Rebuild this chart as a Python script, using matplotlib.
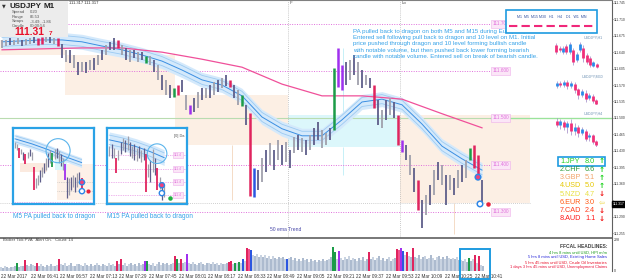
import matplotlib
matplotlib.use("Agg")
import matplotlib.pyplot as plt
from matplotlib.patches import Rectangle

plt.rcParams["font.family"] = ["Liberation Sans", "DejaVu Sans"]
NARROW = ["Liberation Sans Narrow", "Liberation Sans", "DejaVu Sans"]

W, H = 625, 280

# ---- USDJPY M1 bars (one entry per 2 minutes) ----------------------------
bar_hi = [
    111.666, 111.666, 111.670, 111.666, 111.670, 111.666, 111.668, 111.670, 111.672, 111.670,
    111.672, 111.674, 111.672, 111.670, 111.670, 111.657, 111.645, 111.645, 111.634, 111.619,
    111.619, 111.619, 111.623, 111.628, 111.634, 111.645, 111.655, 111.662, 111.670, 111.666,
    111.655, 111.649, 111.645, 111.645, 111.640, 111.640, 111.632, 111.632, 111.623, 111.613,
    111.591, 111.581, 111.570, 111.564, 111.570, 111.581, 111.549, 111.528, 111.543, 111.555,
    111.564, 111.564, 111.570, 111.577, 111.581, 111.585, 111.591, 111.581, 111.570, 111.560,
    111.549, 111.528, 111.511, 111.394, 111.389, 111.415, 111.432, 111.447, 111.432, 111.453,
    111.443, 111.449, 111.432, 111.460, 111.464, 111.457, 111.453, 111.464, 111.479, 111.491,
    111.474, 111.468, 111.479, 111.606, 111.649, 111.613, 111.619, 111.623, 111.634, 111.619,
    111.602, 111.591, 111.585, 111.570, 111.538, 111.517, 111.538, 111.543, 111.534, 111.506,
    111.453, 111.443, 111.421, 111.394, 111.368, 111.326, 111.336, 111.357, 111.389, 111.406,
    111.400, 111.379, 111.379, 111.372, 111.389, 111.400, 111.411, 111.436, 111.443, 111.421,
    111.368]
bar_lo = [
    111.649, 111.653, 111.655, 111.655, 111.657, 111.653, 111.655, 111.657, 111.660, 111.655,
    111.657, 111.662, 111.660, 111.657, 111.653, 111.628, 111.619, 111.617, 111.606, 111.591,
    111.598, 111.596, 111.602, 111.602, 111.613, 111.623, 111.634, 111.645, 111.645, 111.649,
    111.634, 111.623, 111.619, 111.628, 111.619, 111.623, 111.617, 111.613, 111.598, 111.581,
    111.560, 111.549, 111.543, 111.545, 111.549, 111.555, 111.517, 111.509, 111.513, 111.521,
    111.538, 111.543, 111.543, 111.549, 111.555, 111.564, 111.568, 111.566, 111.543, 111.528,
    111.526, 111.485, 111.334, 111.332, 111.347, 111.364, 111.385, 111.400, 111.389, 111.411,
    111.400, 111.406, 111.394, 111.426, 111.432, 111.428, 111.421, 111.432, 111.443, 111.453,
    111.436, 111.443, 111.453, 111.474, 111.566, 111.560, 111.570, 111.581, 111.591, 111.570,
    111.564, 111.570, 111.564, 111.521, 111.485, 111.479, 111.496, 111.506, 111.500, 111.443,
    111.428, 111.411, 111.379, 111.343, 111.304, 111.266, 111.294, 111.315, 111.336, 111.368,
    111.357, 111.315, 111.347, 111.336, 111.351, 111.364, 111.372, 111.411, 111.394, 111.374,
    111.317]
# g/d grey bars, r bear signal, G bull signal, p purple, b blue
bar_col = ("ggdggdggdr" "rgdgrdgdgd" "gdgdgdgddr" "gdgdgdGgdg" "dgdGrdgpdg"
           "dgdgdgdrdg" "Gdrbdgdgdg" "dgdgdgdgdd" "ggdGppdgdg" "dgdrdgdgdr"
           "pdgdrdgdgd" "gdgdgdgGrr" "d")

# dragon (ema channel) centre, every 5 bars
dragon_i = list(range(0, 121, 5))
dragon = [111.662, 111.664, 111.666, 111.666, 111.662, 111.653, 111.645, 111.634, 111.621,
          111.602, 111.581, 111.570, 111.547, 111.502, 111.477, 111.462, 111.462, 111.496,
          111.534, 111.540, 111.528, 111.487, 111.440, 111.413, 111.389]
# 50 ema trend, every 10 bars
ema_i = list(range(0, 121, 10))
ema50 = [111.645, 111.647, 111.649, 111.649, 111.640, 111.625, 111.608, 111.572, 111.547,
         111.547, 111.540, 111.509, 111.479]

# session boxes: first bar, last bar, top, bottom, kind
zones = [(-0.5, 15.75, 111.666, 111.634, "peach"),
         (15.75, 43.25, 111.634, 111.549, "peach"),
         (43.25, 71.5, 111.549, 111.443, "peach"),
         (71.5, 99.5, 111.506, 111.438, "cyan"),
         (99.5, 132.0, 111.506, 111.319, "peach")]
session_lines = [71.5, 99.5]
session_tags = ["F", "Lo"]
pink_levels = [111.700, 111.600, 111.400, 111.300]
level_tags = ["111.700", "111.600", "111.500", "111.400", "111.300"]
round_level = 111.500
entry_i = [119, 119.5]
entry_p = [111.374, 111.317]
last_price = 111.317

# ---- volume (one bar per minute) -----------------------------------------
vol = [30, 25, 35, 28, 22, 30, 26, 35, 58, 30, 40, 35, 80, 45, 38, 50, 42, 35, 60, 40,
       48, 35, 30, 45, 38, 52, 40, 33, 45, 88, 50, 42, 55, 38, 45, 60, 40, 35, 48, 52,
       44, 38, 55, 46, 40, 50, 36, 42, 58, 45, 38, 52, 47, 40, 55, 43, 50, 38, 75, 50,
       85, 45, 55, 40, 48, 60, 42, 50, 38, 55, 47, 52, 75, 72, 50, 44, 58, 40, 52, 62,
       46, 55, 48, 60, 42, 50, 56, 110, 85, 60, 88, 55, 62, 125, 55, 48, 62, 50, 45, 58,
       66, 52, 44, 60, 55, 48, 63, 50, 57, 45, 60, 53, 48, 58, 65, 75, 50, 60, 55, 62,
       58, 90, 70, 165, 160, 155, 120, 110, 125, 105, 115, 100, 118, 95, 108, 90, 112, 98,
       85, 105, 92, 100, 88, 90, 95, 102, 80, 95, 75, 88, 70, 92, 78, 85, 68, 90, 74, 82,
       66, 80, 72, 86, 70, 78, 85, 100, 175, 140, 90, 145, 95, 80, 100, 85, 110, 78, 92, 88,
       70, 96, 82, 105, 75, 90, 140, 85, 100, 78, 92, 110, 80, 95, 70, 88, 102, 76, 90, 98,
       160, 150, 165, 145, 120, 140, 110, 100, 165, 105, 95, 118, 88, 100, 110, 85, 98, 120,
       92, 80, 105, 112, 90, 100, 86, 108, 95, 88, 96, 84, 100, 78, 80, 70, 90, 65, 95, 75,
       85, 115, 60, 110, 45, 35]
vol_marks = {8: "G", 12: "r", 18: "r", 29: "r", 58: "r", 60: "r", 72: "p", 73: "G",
             87: "r", 88: "G", 90: "r", 93: "p", 114: "r", 115: "r", 117: "G", 119: "G",
             121: "b", 123: "r", 124: "k", 125: "b", 143: "b", 166: "G", 167: "G", 169: "p",
             184: "r", 198: "r", 199: "k", 200: "p", 201: "b", 203: "r", 206: "r",
             234: "G", 237: "r", 239: "r"}
time_labels = ["22 Mar 2017", "22 Mar 06:41", "22 Mar 06:57", "22 Mar 07:13", "22 Mar 07:29",
               "22 Mar 07:45", "22 Mar 08:01", "22 Mar 08:17", "22 Mar 08:33", "22 Mar 08:49",
               "22 Mar 09:05", "22 Mar 09:21", "22 Mar 09:37", "22 Mar 09:53", "22 Mar 10:09",
               "22 Mar 10:25", "22 Mar 10:41"]

# ---- inset screenshots (M5 and M15), own price units ---------------------
m5_hi = [63, 61, 57, 56, 53, 51, 53, 56, 53, 37, 26, 29, 34, 37, 42, 47, 52, 55, 52, 56,
         57, 54, 51, 47, 41, 27, 26, 27, 29, 27, 31, 32, 26]
m5_lo = [57, 55, 47, 51, 45, 41, 47, 49, 45, 14, 16, 19, 22, 27, 31, 34, 37, 42, 37, 46,
         47, 42, 39, 34, 24, 6, 9, 14, 17, 12, 17, 21, 12]
m5_col = "ggrgdrgdgr" "ggdgdgdgGg" "dgdgpdgdgd" "gdr"
m5_dragon_k = [0, 8, 16, 24, 32]
m5_dragon = [66, 61, 55, 48, 42]

m15_hi = [59, 61, 57, 47, 55, 63, 67, 65, 69, 63, 59, 61, 57, 59, 55, 57, 51, 41, 45, 56,
          47, 36, 27, 21, 19]
m15_lo = [49, 47, 47, 31, 45, 51, 55, 53, 55, 49, 47, 45, 44, 47, 43, 45, 12, 27, 22, 32,
          29, 14, 15, 4, 7]
m15_col = "gdgrgdgdgd" "gdgdgdrgdg" "drgdg"
m15_dragon_k = [0, 6, 12, 18, 24]
m15_dragon = [65, 62, 58, 53, 47]
m15_levels = [50, 35, 22, 9]

# ---- small higher-timeframe charts (open, close, high, low) --------------
h1_o = [25, 22, 18, 24, 18, 20, 10, 20, 22, 15, 12, 4, 6]
h1_c = [18, 20, 22, 18, 26, 8, 16, 26, 12, 8, 5, 8, 3]
h1_h = [27, 24, 24, 26, 28, 22, 18, 28, 25, 17, 14, 9, 7]
h1_l = [16, 18, 16, 16, 16, 5, 8, 18, 8, 6, 3, 3, 2]
m30_o = [18, 21, 19, 22, 18, 20, 15, 10, 12, 7, 9, 5]
m30_c = [21, 19, 22, 18, 21, 14, 10, 13, 6, 10, 4, 1]
m30_h = [23, 23, 24, 24, 23, 22, 16, 15, 14, 12, 11, 6]
m30_l = [16, 17, 17, 15, 16, 12, 6, 8, 3, 5, 2, 0]
h4_o = [26, 22, 25, 20, 24, 16, 20, 14, 16, 10, 12, 6]
h4_c = [22, 26, 20, 24, 16, 20, 14, 18, 8, 12, 5, 2]
h4_h = [29, 28, 27, 26, 28, 24, 22, 20, 18, 14, 13, 7]
h4_l = [20, 18, 17, 14, 12, 12, 10, 12, 6, 6, 3, 0]

# ---- currency strength meter ----------------------------------------------
ccy = ["1.JPY", "2.CHF", "3.GBP", "4.USD", "5.NZD", "6.EUR", "7.CAD", "8.AUD"]
ccy_val = [8.0, 6.6, 5.1, 5.0, 4.7, 3.0, 2.4, 1.1]
ccy_dir = ["up", "up", "up", "up", "down", "flat", "down", "down"]
ccy_colors = ["#22d022", "#2f9a3a", "#f2a46a", "#e6c800", "#e8e040", "#ff5a14",
              "#ff3a1a", "#ff1818"]

headlines = ["4 hrs 8 mins until USD, HPI m/m",
             "5 hrs 8 mins until USD, Existing Home Sales",
             "5 hrs 45 mins until USD, Crude Oil Inventories",
             "1 days 3 hrs 45 mins until USD, Unemployment Claims"]
headline_colors = ["#1a9a1a", "#2222d8", "#e8102a", "#e8103a"]

note = ("PA pulled back to dragon on both M5 and M15 during Europe open.\n"
        "Entered sell following pull back to dragon and 10 level on M1. Initial\n"
        "price pushed through dragon and 10 level forming bullish candle\n"
        "with notable volume, but then pushed back lower forming bearish\n"
        "candle with notable volume. Entered sell on break of bearish candle.")

CANDLE = {"g": "#a0a0ac", "d": "#5e5e8a", "r": "#e0245e", "G": "#1c9c48",
          "p": "#a030ee", "b": "#2c56e0", "k": "#f2508e"}
ZONE = {"peach": "#fcefe4", "cyan": "#dcf7fb"}
BLUE_TXT = "#35a2e8"
PINK = "#e070dc"


fig = plt.figure(figsize=(W / 100, H / 100), dpi=100)
fig.patch.set_facecolor("white")


def fx(x):
    return x / W


def fy(y):
    return 1 - y / H


def ftext(x, y, s, **kw):
    kw.setdefault("va", "center")
    fig.text(fx(x), fy(y), s, **kw)


def fbox(x0, y0, x1, y1, **kw):
    fig.add_artist(Rectangle((fx(x0), fy(y1)), (x1 - x0) / W, (y1 - y0) / H,
                             transform=fig.transFigure, **kw))


def draw_bars(a, hi, lo, codes, lw_grey=1.3, lw_sig=1.8, z=4):
    for code, c in CANDLE.items():
        idx = [i for i, cc in enumerate(codes) if cc == code]
        if idx:
            a.vlines(idx, [lo[i] for i in idx], [hi[i] for i in idx], colors=c,
                     lw=lw_grey if code in "gd" else lw_sig, zorder=z)


def draw_dragon(a, xs, mid, half, z=2):
    a.fill_between(xs, [m - half for m in mid], [m + half for m in mid],
                   color="#d4e9fb", lw=0, zorder=z)
    a.plot(xs, [m + half * 0.6 for m in mid], color="#9ccaf2", lw=0.6, zorder=z)
    a.plot(xs, [m - half * 0.6 for m in mid], color="#9ccaf2", lw=0.6, zorder=z)
    a.plot(xs, mid, color="#3a8ee2", lw=0.7, zorder=z)


# ---------------- main price panel ----------------
ax = fig.add_axes([0, fy(238), 612 / W, 238 / H])
ax.set_xlim(-0.5, 152.5)
ax.set_ylim(111.2445, 111.751)
ax.set_facecolor("white")
for s in ("left", "bottom"):
    ax.spines[s].set_visible(False)
ax.spines["top"].set_color("#808080")
ax.spines["right"].set_color("#606060")
ax.set_xticks([])
ax.yaxis.tick_right()
ticks = [111.745 - 0.035 * k for k in range(15)]
ax.set_yticks(ticks)
# the 111.325 label sits under the last-price box
ax.set_yticklabels(["" if abs(t - 111.325) < 1e-6 else f"{t:.3f}" for t in ticks],
                   fontsize=2.4, color="#333333")
ax.tick_params(axis="y", length=1, width=0.5, pad=0.5, colors="#555555", labelcolor="#333333")

for i0, i1, top, bot, kind in zones:
    ax.add_patch(Rectangle((i0, bot), i1 - i0, top - bot, fc=ZONE[kind], ec="none", zorder=0))
ax.vlines([57.5, 113], [111.326, 111.253], [111.443, 111.319], colors="#f3d6bd", lw=0.6, zorder=0)
ax.vlines([85.25, 85.25], [111.379, 111.506], [111.438, 111.649], colors="#bdeef6", lw=0.6, zorder=0)
for xs in session_lines:
    ax.axvline(xs, color="#b8b8b8", ls=(0, (1, 1.5)), lw=0.6, zorder=1)
ax.hlines(pink_levels, -0.5, 122, colors=PINK, ls=(0, (1, 1.5)), lw=0.7, zorder=1)
ax.hlines(111.319, -0.5, 132, colors="#c0c0c0", ls=(0, (1, 1.5)), lw=0.6, zorder=1)
ax.axhline(round_level, color="#b9dcb0", lw=0.8, zorder=1)
ax.hlines(round_level, 122, 152.5, colors="#9be39b", lw=0.9, zorder=1)

draw_dragon(ax, dragon_i, dragon, 0.016)
ax.plot(ema_i, ema50, color="#f0509a", lw=0.9, zorder=3)
draw_bars(ax, bar_hi, bar_lo, bar_col)

ax.scatter(entry_i, entry_p, s=16, facecolors=["#f0407a", "white"], edgecolors="#2f86e6",
           lw=1.1, zorder=6)
ax.scatter([121.5], [last_price], s=5, color="#e8203a", zorder=6)

for lv, tag in zip(sorted(pink_levels + [round_level], reverse=True), level_tags):
    ax.text(122.6, lv, tag, fontsize=3.4, color=PINK, va="center", ha="left", zorder=7,
            bbox=dict(boxstyle="square,pad=0.25", fc="#fbe6f7", ec="#eeb0ea", lw=0.4))
for xs, tag in zip(session_lines, session_tags):
    ax.text(xs + 0.3, 111.745, tag, fontsize=3.2, color="#555555", va="center")

ax.text(87.8, 111.690, note, fontsize=4.45, color=BLUE_TXT, va="top", ha="left",
        family=NARROW, linespacing=1.35, zorder=8)
ax.text(67, 111.263, "50 ema Trend", fontsize=3.6, color="#4848a8", va="center")

# last price box on the axis
ftext(612.6, 204, "111.317", fontsize=2.4, color="white", ha="left",
      bbox=dict(boxstyle="square,pad=0.25", fc="black", ec="black"))

# ---------------- volume panel ----------------
vax = fig.add_axes([0, fy(271), 612 / W, 33 / H])
vax.set_xlim(-0.5, 305.5)
vax.set_ylim(0, 240)
for s in ("left", "bottom"):
    vax.spines[s].set_visible(False)
vax.spines["top"].set_color("#606060")
vax.spines["top"].set_linewidth(1.2)
vax.spines["right"].set_color("#606060")
vax.set_xticks([])
vax.yaxis.tick_right()
vax.set_yticks([0, 228])
vax.set_yticklabels(["0", "228"], fontsize=2.6, color="#333333")
vax.tick_params(axis="y", length=0, pad=1.5)
vcols = []
for j in range(len(vol)):
    code = vol_marks.get(j)
    vcols.append(CANDLE[code] if code else ("#adbbcf" if j % 2 else "#c9d3e1"))
vax.bar(range(len(vol)), vol, width=0.75, color=vcols, lw=0)
vax.text(1, 222, "Broker Tick PVA   Alert On.   Count: 14", fontsize=3.0,
         color="#444444", va="center")

for k, lab in enumerate(time_labels):
    ftext(1 + 29.6 * k, 276, lab, fontsize=3.3, color="#333333", ha="left")

ftext(607, 247, "FFCAL HEADLINES:", fontsize=3.5, color="#404040", ha="right", weight="bold")
for k, (hl, hc) in enumerate(zip(headlines, headline_colors)):
    ftext(607, 252.3 + 5 * k, hl, fontsize=2.9, color=hc, ha="right")
fbox(460, 249, 490, 279, fc="none", ec="#1e9be0", lw=1.4)

# ---------------- info panel (top left) ----------------
fbox(0, 1, 68, 37, fc="#ececec", ec="none")
ftext(2, 6, "▼", fontsize=3.5, color="#333333", family=["DejaVu Sans"])
ftext(9, 6, "USDJPY", fontsize=5.8, color="#202020", weight="bold")
ftext(44, 6, "M1", fontsize=5.8, color="#202020", weight="bold")
for k, (lab, val) in enumerate([("Spread", "0.20"), ("Range", "86.53"),
                                ("Swaps", "-3.49, -1.86"), ("Candle", "00:00:54")]):
    ftext(12, 12 + 4.7 * k, lab, fontsize=3.0, color="#555555")
    ftext(30, 12 + 4.7 * k, val, fontsize=3.0, color="#555555")
ftext(14, 32, "111.31", fontsize=7.4, color="#e8102a", weight="bold")
ftext(49, 33.5, "7", fontsize=4.6, color="#e8102a", weight="bold")
ftext(69, 3.5, "111.317 111.317", fontsize=3.0, color="#333333")

# ---------------- timeframe selector ----------------
fbox(506, 10, 597, 33, fc="white", ec="#1e9be0", lw=1.2, zorder=5)
ftext(551.5, 17.5, "M1  M5  M15 M30   H1    H4    D1   W1  MN", fontsize=2.6,
      color="#3050a0", ha="center", zorder=6)
fig.add_artist(plt.Line2D([fx(509), fx(595)], [fy(25.5), fy(25.5)], transform=fig.transFigure,
                          color="#f0287a", lw=1.5, ls=(0, (4, 2)), zorder=6))


# ---------------- insets ----------------
def inset(x0, y0, w, h, nbars):
    a = fig.add_axes([fx(x0), fy(y0 + h), w / W, h / H])
    a.set_xlim(-1, nbars)
    a.set_ylim(0, 77)
    a.set_xticks([])
    a.set_yticks([])
    a.set_facecolor("white")
    for s in a.spines.values():
        s.set_color("#2aa2e6")
        s.set_linewidth(1.6)
    return a


a1 = inset(13, 128, 81, 76, 38)
a1.add_patch(Rectangle((2.4, 32), 13, 10, fc="#fbeadf", ec="none", zorder=0))
a1.add_patch(Rectangle((20, 4), 18, 37, fc="#fdf1e8", ec="none", zorder=0))
a1.add_patch(Rectangle((19, 34), 6, 12, fc="#d8f6fb", ec="none", zorder=0))
a1.hlines([22, 13], 20, 38, colors="#b8b8b8", ls=(0, (1, 1.5)), lw=0.5)
a1.axhline(2, color=PINK, ls=(0, (1, 1.5)), lw=0.5)
draw_dragon(a1, m5_dragon_k, m5_dragon, 5)
draw_bars(a1, m5_hi, m5_lo, m5_col, lw_grey=0.9, lw_sig=1.3)
a1.scatter([20.7], [54], s=300, facecolors="none", edgecolors="#5ab4ec", lw=0.8, zorder=6)
a1.scatter([32.2, 32.2], [22, 13], s=14, facecolors=["#f0407a", "white"],
           edgecolors="#2f86e6", lw=1.0, zorder=6)
a1.scatter([35], [13], s=4, color="#e8203a", zorder=6)

a2 = inset(107, 128, 80, 76, 34)
a2.hlines(m15_levels, -1, 34, colors=PINK, ls=(0, (1, 1.5)), lw=0.5)
a2.axhline(2, color="#d0c8b8", lw=0.6)
draw_dragon(a2, m15_dragon_k, m15_dragon, 8)
draw_bars(a2, m15_hi, m15_lo, m15_col, lw_grey=0.9, lw_sig=1.3)
for lv in m15_levels:
    a2.text(28.2, lv, "111.4", fontsize=2.4, color=PINK, va="center",
            bbox=dict(boxstyle="square,pad=0.3", fc="#fbe6f7", ec="#eeb0ea", lw=0.4))
a2.text(28.5, 69, "[0] Da", fontsize=2.8, color="#555555", va="center")
a2.scatter([20.9], [51], s=200, facecolors="none", edgecolors="#5ab4ec", lw=0.8, zorder=6)
a2.scatter([23, 23], [19, 11], s=14, facecolors=["#f0407a", "white"],
           edgecolors="#2f86e6", lw=1.0, zorder=6)
a2.scatter([26.5], [6], s=5, color="#20b040", zorder=6)

ftext(13, 217, "M5 PA pulled back to dragon", fontsize=4.7, color=BLUE_TXT, family=NARROW)
ftext(107, 217, "M15 PA pulled back to dragon", fontsize=4.7, color=BLUE_TXT, family=NARROW)


# ---------------- higher-timeframe mini charts ----------------
def mini(y0, y1, o, c, h, l, top, tag):
    a = fig.add_axes([fx(553), fy(y1), 47 / W, (y1 - y0) / H])
    a.axis("off")
    a.set_xlim(-1, len(o))
    a.set_ylim(0, top)
    for k in range(len(o)):
        col = "#2b8be8" if c[k] > o[k] else "#f0307a"
        a.vlines(k, l[k], h[k], colors="#9c84c4", lw=0.5)
        a.vlines(k, min(o[k], c[k]), max(o[k], c[k]), colors=col, lw=2.0)
    ftext(603, y0 - 2, tag, fontsize=2.6, color="#6b8fb2", ha="right")


mini(40, 70, h1_o, h1_c, h1_h, h1_l, 30, "USDJPY,H1")
mini(79, 105, m30_o, m30_c, m30_h, m30_l, 25, "USDJPY,M30")
mini(116, 147, h4_o, h4_c, h4_h, h4_l, 31, "USDJPY,H4")

# ---------------- currency strength ----------------
fbox(558, 156.5, 605, 166, fc="none", ec="#1e9be0", lw=1.2)
ARROW = {"up": ("↑", "#10d010"), "down": ("↓", "#f01010"), "flat": ("⇦", "#f2e070")}
for k, (name, v, d, c) in enumerate(zip(ccy, ccy_val, ccy_dir, ccy_colors)):
    y = 161.3 + 8.2 * k
    ftext(560, y, name, fontsize=5.2, color=c)
    ftext(585, y, f"{v:.1f}", fontsize=5.2, color=c)
    sym, ac = ARROW[d]
    ftext(598.5, y, sym, fontsize=5.2, color=ac, weight="bold", family=["DejaVu Sans"])

fig.savefig("out.png", dpi=100, facecolor="white")
